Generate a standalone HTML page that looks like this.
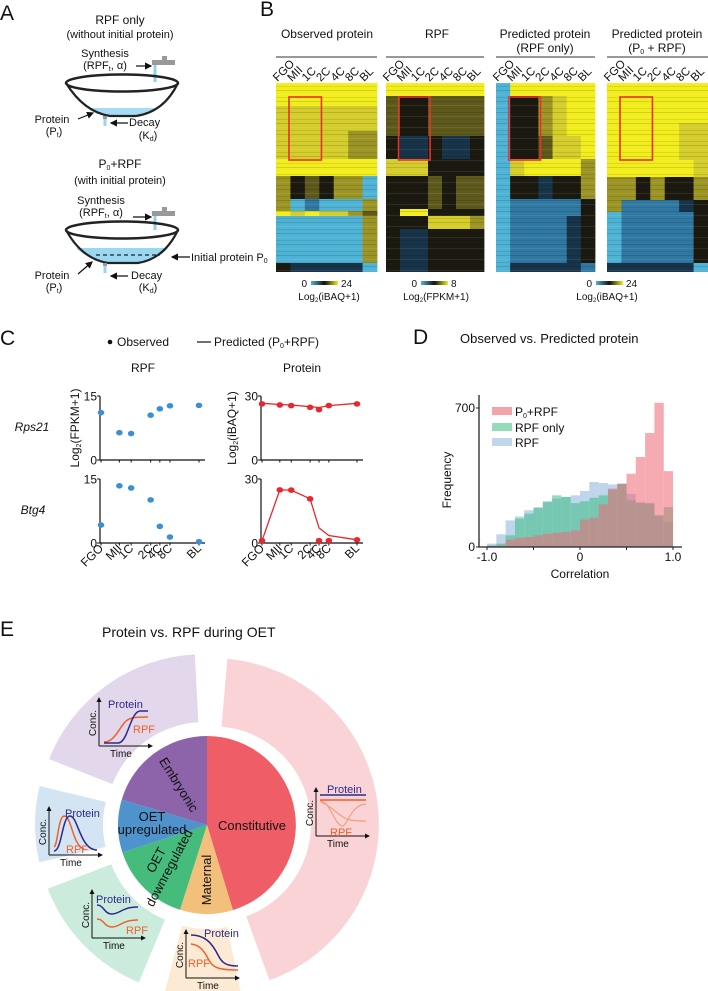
<!DOCTYPE html>
<html><head><meta charset="utf-8"><style>
html,body{margin:0;padding:0;background:#fff;}
svg{display:block;font-family:"Liberation Sans",Arial,sans-serif;}
</style></head><body>
<svg id="fig" width="708" height="991" viewBox="0 0 708 991" xmlns="http://www.w3.org/2000/svg">
<defs>
<marker id="ah" markerWidth="6" markerHeight="6" refX="5" refY="3" orient="auto"><path d="M0,0 L6,3 L0,6 Z" fill="#111"/></marker>
<marker id="ah2" markerWidth="5" markerHeight="5" refX="4" refY="2.5" orient="auto"><path d="M0,0 L5,2.5 L0,5 Z" fill="#111"/></marker>
<linearGradient id="cbar" x1="0" x2="1" y1="0" y2="0"><stop offset="0" stop-color="#4fb3d6"/><stop offset="0.5" stop-color="#111"/><stop offset="1" stop-color="#f2ee1e"/></linearGradient>
<pattern id="stripes" width="7" height="11" patternUnits="userSpaceOnUse"><rect x="0" y="2" width="7" height="1" fill="#000" opacity="0.13"/><rect x="0" y="6" width="7" height="1" fill="#fff" opacity="0.08"/><rect x="0" y="9" width="7" height="1" fill="#000" opacity="0.09"/></pattern>
</defs>

<!-- ================= PANEL A ================= -->
<g font-size="11" fill="#111">
<text x="0" y="20" font-size="21">A</text>
<text x="120" y="24" text-anchor="middle" font-size="12">RPF only</text>
<text x="120" y="38" text-anchor="middle">(without initial protein)</text>
<text x="105" y="57" text-anchor="middle">Synthesis</text>
<text x="105" y="69" text-anchor="middle">(RPF<tspan font-size="7" dy="2">t</tspan><tspan dy="-2">,  α)</tspan></text>
<line x1="136" y1="66" x2="151" y2="66" stroke="#111" stroke-width="1.2" marker-end="url(#ah)"/>
<g><rect x="152" y="60" width="23" height="5" fill="#999"/><rect x="162" y="56" width="5" height="5" fill="#999"/><rect x="153.5" y="65" width="3" height="17" fill="#8fd0ee"/></g>
<g>
<path d="M88,108 Q110,117 122,117 Q140,117 158,108 Z" fill="#a6dcf3"/>
<path d="M66,83 Q84,112 110,116 L136,116 Q164,112 178,83" fill="none" stroke="#222" stroke-width="2.2"/>
<ellipse cx="122" cy="83" rx="56" ry="8.5" fill="none" stroke="#222" stroke-width="2.5"/>
<rect x="103.5" y="116" width="3" height="10" fill="#9ad4ef"/><rect x="103" y="116" width="4" height="3" fill="#999"/>
</g>
<text x="52" y="123" text-anchor="middle">Protein</text>
<text x="54" y="135" text-anchor="middle">(P<tspan font-size="7" dy="2">t</tspan><tspan dy="-2">)</tspan></text>
<line x1="78" y1="119" x2="93" y2="113" stroke="#111" stroke-width="1.2" marker-end="url(#ah)"/>
<line x1="128" y1="123" x2="111" y2="123" stroke="#111" stroke-width="1.2" marker-end="url(#ah)"/>
<text x="129" y="126">Decay</text>
<text x="148" y="139" text-anchor="middle">(K<tspan font-size="7" dy="2">d</tspan><tspan dy="-2">)</tspan></text>

<text x="120" y="168" text-anchor="middle" font-size="12">P<tspan font-size="7" dy="2">0</tspan><tspan dy="-2">+RPF</tspan></text>
<text x="120" y="184" text-anchor="middle">(with initial protein)</text>
<text x="101" y="204" text-anchor="middle">Synthesis</text>
<text x="101" y="216" text-anchor="middle">(RPF<tspan font-size="7" dy="2">t</tspan><tspan dy="-2">,  α)</tspan></text>
<line x1="133" y1="217" x2="151" y2="217" stroke="#111" stroke-width="1.2" marker-end="url(#ah)"/>
<g><rect x="152" y="211" width="23" height="5" fill="#999"/><rect x="162" y="207" width="5" height="5" fill="#999"/><rect x="153.5" y="216" width="3" height="14" fill="#8fd0ee"/></g>
<g>
<path d="M76,248 L168,248 Q160,258 140,263 L106,263 Q86,258 76,248 Z" fill="#9ad8f2"/>
<line x1="96" y1="255" x2="160" y2="255" stroke="#222" stroke-width="1.2" stroke-dasharray="4,3"/>
<path d="M66,230 Q82,259 108,263 L138,263 Q164,259 178,230" fill="none" stroke="#222" stroke-width="2.2"/>
<ellipse cx="122" cy="230" rx="56" ry="8.5" fill="none" stroke="#222" stroke-width="2.5"/>
<rect x="103.5" y="263" width="3" height="10" fill="#9ad4ef"/><rect x="103" y="263" width="4" height="3" fill="#999"/>
</g>
<line x1="190" y1="257" x2="172" y2="257" stroke="#111" stroke-width="1.2" marker-end="url(#ah)"/>
<text x="191" y="261">Initial protein P<tspan font-size="7" dy="2">0</tspan></text>
<text x="52" y="279" text-anchor="middle">Protein</text>
<text x="54" y="291" text-anchor="middle">(P<tspan font-size="7" dy="2">t</tspan><tspan dy="-2">)</tspan></text>
<line x1="78" y1="274" x2="92" y2="262" stroke="#111" stroke-width="1.2" marker-end="url(#ah)"/>
<line x1="128" y1="276" x2="111" y2="276" stroke="#111" stroke-width="1.2" marker-end="url(#ah)"/>
<text x="131" y="279">Decay</text>
<text x="148" y="291" text-anchor="middle">(K<tspan font-size="7" dy="2">d</tspan><tspan dy="-2">)</tspan></text>
</g>

<!-- ================= PANEL B ================= -->
<g id="panelB" font-size="12" fill="#111">
<text x="260" y="16" font-size="21">B</text>
<text x="327" y="38" text-anchor="middle">Observed protein</text>
<text x="437" y="38" text-anchor="middle">RPF</text>
<text x="545" y="38" text-anchor="middle">Predicted protein</text>
<text x="545" y="52" text-anchor="middle">(RPF only)</text>
<text x="657" y="38" text-anchor="middle">Predicted protein</text>
<text x="657" y="52" text-anchor="middle">(P<tspan font-size="7" dy="2">0</tspan><tspan dy="-2"> + RPF)</tspan></text>
<g font-size="10">
<text x="307" y="287" text-anchor="end">0</text><rect x="311" y="281" width="27" height="4" fill="url(#cbar)"/><text x="341" y="287">24</text>
<text x="329" y="300" text-anchor="middle">Log<tspan font-size="6" dy="2">2</tspan><tspan dy="-2">(iBAQ+1)</tspan></text>
<text x="417" y="287" text-anchor="end">0</text><rect x="421" y="281" width="27" height="4" fill="url(#cbar)"/><text x="451" y="287">8</text>
<text x="436" y="300" text-anchor="middle">Log<tspan font-size="6" dy="2">2</tspan><tspan dy="-2">(FPKM+1)</tspan></text>
<text x="592" y="287" text-anchor="end">0</text><rect x="596" y="281" width="27" height="4" fill="url(#cbar)"/><text x="626" y="287">24</text>
<text x="607" y="300" text-anchor="middle">Log<tspan font-size="6" dy="2">2</tspan><tspan dy="-2">(iBAQ+1)</tspan></text>
</g>
</g>

<!-- ================= PANEL C ================= -->
<g id="panelC" fill="#111" font-size="12">
<text x="0" y="345" font-size="21">C</text>
<g>
<circle cx="110" cy="342" r="2.3" fill="#111"/><text x="117" y="346">Observed</text>
<line x1="197" y1="342" x2="211" y2="342" stroke="#111" stroke-width="1.2"/><text x="214" y="346">Predicted (P<tspan font-size="7" dy="2">0</tspan><tspan dy="-2">+RPF)</tspan></text>
</g>
<text x="143" y="372" text-anchor="middle">RPF</text>
<text x="302" y="372" text-anchor="middle">Protein</text>
<text x="32" y="431" text-anchor="middle" font-style="italic">Rps21</text>
<text x="33" y="514" text-anchor="middle" font-style="italic">Btg4</text>
<text transform="translate(79,428) rotate(-90)" text-anchor="middle">Log<tspan font-size="7" dy="2">2</tspan><tspan dy="-2">(FPKM+1)</tspan></text>
<text transform="translate(236,428) rotate(-90)" text-anchor="middle">Log<tspan font-size="7" dy="2">2</tspan><tspan dy="-2">(iBAQ+1)</tspan></text>
</g>

<!-- ================= PANEL D ================= -->
<g id="panelD" fill="#111" font-size="12">
<text x="413" y="344" font-size="21">D</text>
<text x="460" y="343" font-size="13">Observed vs. Predicted protein</text>
<text transform="translate(451,480) rotate(-90)" text-anchor="middle">Frequency</text>
<text x="580" y="578" text-anchor="middle">Correlation</text>
</g>

<!-- ================= PANEL E ================= -->
<g id="panelE" fill="#111">
<text x="0" y="636" font-size="21">E</text>
<text x="102" y="637" font-size="14">Protein vs. RPF during OET</text>
</g>
</svg>

<script>
var NS = "http://www.w3.org/2000/svg";
function mk(tag, attrs, parent){ var e=document.createElementNS(NS,tag); for(var k in attrs) e.setAttribute(k,attrs[k]); (parent||document.getElementById('fig')).appendChild(e); return e; }

/* ---------- Panel B heatmap data ---------- */
var stages = ["FGO","MII","1C","2C","4C","8C","BL"];
var heatObserved = [[23,"YYYYYYY"],[25,"yyyyyyy"],[28,"yyyyyoo"],[17,"YYYYYYY"],[23,"oklkoob"],[12,"obmbbbo"],[5,"YyYyyol"],[47,"bbbbbbo"],[9,"kdddddb"]];
var heatRPF = [[13,"YYYYYYY"],[40,"lkkllll"],[23,"kddkddk"],[17,"yyykkkk"],[33,"kkklkll"],[7,"kYYkkkk"],[13,"kkkyyyo"],[43,"kddkkkk"]];
var heatPredRPF = [[13,"bYYYYYY"],[40,"bkkoyYY"],[23,"bkklyyY"],[17,"byYYYYo"],[23,"bkkdkko"],[17,"bmmmmmk"],[47,"bmmmmdk"],[9,"bdddddm"]];
var heatPredP0 = [[40,"YYYYYYY"],[37,"YYYYYyy"],[17,"YYYYYYy"],[23,"ookokko"],[12,"ommmmdk"],[51,"bmmmmmk"],[9,"ddddddb"]];
var heatColors = {Y:"#f2ee1e",y:"#d4cd2c",o:"#9c9424",l:"#5e5a1c",k:"#1c1a10",d:"#17344a",m:"#2f78a2",b:"#4fb3d6"};

(function(){
  var B=document.getElementById('panelB');
  var panels=[{x:276,w:101,d:heatObserved,n:"observed"},{x:386,w:98,d:heatRPF,n:"rpf"},{x:496,w:99,d:heatPredRPF,n:"predicted-rpf-only"},{x:607,w:101,d:heatPredP0,n:"predicted-p0-rpf"}];
  var y0=83;
  panels.forEach(function(p){
    var g=mk('g',{},B);
    
    
    var l=mk('line',{x1:p.x,x2:p.x+p.w,y1:57,y2:57,stroke:"#333","stroke-width":1},g);
    
    
    var cw=p.w/7, y=y0;
    p.d.forEach(function(band){
      for(var c=0;c<7;c++){
        var r=mk('rect',{x:(p.x+c*cw).toFixed(2),y:y,width:(cw+0.4).toFixed(2),height:band[0],fill:heatColors[band[1][c]]},g);
        
        
      }
      y+=band[0];
    });
    mk('rect',{x:p.x,y:y0,width:p.w,height:y-y0,fill:"url(#stripes)"},g);
    stages.forEach(function(s,i){
      var t=mk('text',{transform:"translate("+(p.x+i*cw+1.5)+",82) rotate(-45)","font-size":"11.5"},g);
      t.textContent=s;
      
      
    });
    var box=mk('rect',{x:p.x+cw*0.9,y:97,width:cw*2.25,height:63,fill:"none",stroke:"#e8322c","stroke-width":1.6},g);
    
    
  });
})();

/* ---------- Panel C data ---------- */
var stageTime = [0, 1, 1.64, 2.7, 3.2, 3.75, 5.33];
var rpfRps21 = [11.1, 6.4, 6.2, 10.5, 12.0, 12.7, 12.8];
var rpfBtg4 = [4.2, 13.4, 12.9, 10.1, 3.9, 1.4, 0.3];
var protRps21Obs = [26.3, 25.8, 25.5, 24.7, 23.6, 25.5, 26.3];
var protRps21Pred = [26.6, 26.0, 25.8, 25.0, 24.6, 25.5, 26.6];
var protBtg4Obs = [1.1, 24.9, 24.8, 20.7, 1.1, 1.1, 1.5];
var protBtg4Pred = [1.1, 24.9, 24.8, 20.7, 7.1, 3.5, 1.5];
var rpfTicks = [0, 15];
var protTicks = [0, 30];

(function(){
  var C=document.getElementById('panelC');
  function plot(opts){
    var g=mk('g',{},C);
    
    
    var x0=opts.x0, yb=opts.yb, h=64, xs=opts.xw/5.33;
    function X(t){return x0+1+t*xs;}
    function Y(v){return yb-v/opts.max*h;}
    var ax=mk('path',{d:"M"+x0+","+(yb-h)+" L"+x0+","+yb+" L"+(x0+opts.xw+7)+","+yb,fill:"none",stroke:"#111","stroke-width":1.2},g);
    
    
    opts.ticks.forEach(function(v){
      mk('line',{x1:x0-3,x2:x0,y1:Y(v),y2:Y(v),stroke:"#111"},g);
      var t=mk('text',{x:x0-3,y:Y(v)+4.5,"text-anchor":"end","font-size":"12"},g);
      t.textContent=v;
      
      
    });
    stageTime.forEach(function(s){ mk('line',{x1:X(s),x2:X(s),y1:yb,y2:yb+2.5,stroke:"#111"},g); });
    if(opts.pred){
      var d=opts.pred.map(function(v,i){return (i?"L":"M")+X(stageTime[i]).toFixed(1)+","+Y(v).toFixed(1);}).join(" ");
      var pl=mk('path',{d:d,fill:"none",stroke:opts.color,"stroke-width":1.3},g);
      
      
    }
    opts.obs.forEach(function(v,i){
      var c=mk('ellipse',{cx:X(stageTime[i]),cy:Y(v),rx:3.3,ry:2.8,fill:opts.color},g);
      
      
    });
    if(opts.labels){
      stages.forEach(function(s,i){
        var t=mk('text',{transform:"translate("+(X(stageTime[i])+3)+","+(yb+6)+") rotate(-45)","text-anchor":"end","font-size":"12"},g);
        t.textContent=s;
        
        
      });
    }
  }
  plot({name:"rpf-rps21-plot",x0:100,yb:460,xw:98,max:15,ticks:rpfTicks,obs:rpfRps21,color:"#3a8fd6"});
  plot({name:"rpf-btg4-plot",x0:100,yb:543,xw:98,max:15,ticks:rpfTicks,obs:rpfBtg4,color:"#3a8fd6",labels:true});
  plot({name:"protein-rps21-plot",x0:261,yb:460,xw:95,max:30,ticks:protTicks,obs:protRps21Obs,pred:protRps21Pred,color:"#e8262e"});
  plot({name:"protein-btg4-plot",x0:261,yb:543,xw:95,max:30,ticks:protTicks,obs:protBtg4Obs,pred:protBtg4Pred,color:"#e8262e",labels:true});
})();

/* ---------- Panel D data ---------- */
var binStarts = [-1.0,-0.9,-0.8,-0.7,-0.6,-0.5,-0.4,-0.3,-0.2,-0.1,0.0,0.1,0.2,0.3,0.4,0.5,0.6,0.7,0.8,0.9];
var freqRPF = [17,64,134,154,185,201,226,243,252,260,282,327,322,315,315,268,226,218,159,126];
var freqRPFonly = [8,17,59,143,168,196,230,260,252,221,230,248,260,289,319,235,221,221,159,201];
var freqP0RPF = [5,8,37,47,50,59,67,72,76,84,138,148,215,294,319,369,453,574,726,382];
var freqTicks = [0, 700];
var corrTicks = [-1.0, 0, 1.0];

(function(){
  var D=document.getElementById('panelD');
  function X(v){return 487+(v+1)/2*186;}
  function Y(v){return 547-v*0.1986;}
  var series=[{d:freqRPF,c:"#8ab4dc",n:"rpf"},{d:freqRPFonly,c:"#3cbf85",n:"rpf-only"},{d:freqP0RPF,c:"#f06874",n:"p0-rpf"}];
  series.forEach(function(s){
    var g=mk('g',{opacity:"0.55"},D);
    
    
    s.d.forEach(function(v,i){
      var x=X(binStarts[i]);
      var r=mk('rect',{x:x.toFixed(2),y:Y(v).toFixed(2),width:(X(binStarts[i]+0.1)-x+0.05).toFixed(2),height:(547-Y(v)).toFixed(2),fill:s.c},g);
      
      
    });
  });
  var ax=mk('path',{d:"M479,395 L479,547 L682,547",fill:"none",stroke:"#222","stroke-width":1.3},D);
  
  
  freqTicks.forEach(function(v){
    mk('line',{x1:476,x2:479,y1:Y(v),y2:Y(v),stroke:"#222"},D);
    var t=mk('text',{x:475,y:Y(v)+4,"text-anchor":"end","font-size":"12"},D);
    t.textContent=v;
    
    
  });
  [-0.5,0.5].forEach(function(v){ mk('line',{x1:X(v),x2:X(v),y1:547,y2:550,stroke:"#222"},D); });
  corrTicks.forEach(function(v){
    mk('line',{x1:X(v),x2:X(v),y1:547,y2:550,stroke:"#222"},D);
    var t=mk('text',{x:X(v),y:561,"text-anchor":"middle","font-size":"12"},D);
    t.textContent=(v===0?"0":v.toFixed(1));
    
    
  });
  var leg=[["#f5a3ab","P0+RPF",416],["#93dbb9","RPF only",432],["#bfd6ec","RPF",447]];
  leg.forEach(function(l){
    var g=mk('g',{},D);
    
    
    mk('rect',{x:492,y:l[2]-9,width:20,height:8,fill:l[0]},g);
    var t=mk('text',{x:515,y:l[2],"font-size":"12"},g);
    if(l[1]==="P0+RPF"){ t.innerHTML='P<tspan font-size="7" dy="2">0</tspan><tspan dy="-2">+RPF</tspan>'; } else t.textContent=l[1];
  });
})();

/* ---------- Panel E data ---------- */
var pieCategories = ["Constitutive","Maternal","OET downregulated","OET upregulated","Embryonic"];
var pieShares = [45.3, 9.6, 15.1, 9.6, 20.4];
var pieColors = ["#ef5e67","#f2c07a","#45bb7c","#4e93cc","#8d63a9"];
var outerColors = ["#f9d3d6","#fcead4","#cbebdc","#d3e4f2","#e3d7eb"];

(function(){
  var E=document.getElementById('panelE');
  var cx=207, cy=825, R=89;
  function pt(r,a){var rad=(a-90)*Math.PI/180;return [cx+r*Math.cos(rad), cy+r*Math.sin(rad)];}
  function sector(r0,r1,a0,a1,off){
    var mid=(a0+a1)/2, o=pt(off,mid); var dx=o[0]-cx, dy=o[1]-cy;
    function P(r,a){var p=pt(r,a);return (p[0]+dx).toFixed(1)+","+(p[1]+dy).toFixed(1);}
    var lg=(a1-a0)>180?1:0;
    if(r0===0) return "M"+(cx+dx)+","+(cy+dy)+" L"+P(r1,a0)+" A"+r1+","+r1+" 0 "+lg+" 1 "+P(r1,a1)+" Z";
    return "M"+P(r0,a0)+" L"+P(r1,a0)+" A"+r1+","+r1+" 0 "+lg+" 1 "+P(r1,a1)+" L"+P(r0,a1)+" A"+r0+","+r0+" 0 "+lg+" 0 "+P(r0,a0)+" Z";
  }
  var total=pieShares.reduce(function(a,b){return a+b;},0);
  var a=0;
  var outers=[], inners=[];
  pieShares.forEach(function(s,i){
    var a1=a+s/total*360;
    outers.push([a,a1,i]); inners.push([a,a1,i]); a=a1;
  });
  var outerG=mk('g',{},E);
  
  
  outers.forEach(function(o){
    var p=mk('path',{d:sector(98,166,o[0]+5,o[1]-3,6),fill:outerColors[o[2]]},outerG);
    
    
  });
  var pieG=mk('g',{},E);
  
  
  inners.forEach(function(o){
    var p=mk('path',{d:sector(0,R,o[0],o[1],0),fill:pieColors[o[2]]},pieG);
    
    
  });
  function txt(s,attrs,name){var t=mk('text',attrs,E);t.textContent=s;return t;}
  txt("Constitutive",{x:252,y:830,"text-anchor":"middle","font-size":"13"},"label-constitutive");
  txt("Embryonic",{transform:"translate(175,787) rotate(58)","text-anchor":"middle","font-size":"13"},"label-embryonic");
  txt("OET",{x:152,y:821,"text-anchor":"middle","font-size":"13"},"label-oet-upregulated");
  txt("upregulated",{x:152,y:834,"text-anchor":"middle","font-size":"13"},"label-upregulated");
  txt("OET",{transform:"translate(160,862) rotate(-62)","text-anchor":"middle","font-size":"13"},"label-oet-downregulated");
  txt("downregulated",{transform:"translate(173,870) rotate(-62)","text-anchor":"middle","font-size":"13"},"label-downregulated");
  txt("Maternal",{transform:"translate(211,880) rotate(-90)","text-anchor":"middle","font-size":"13"},"label-maternal");

  function inset(name,ox,oy,blue,orange,protXY,rpfXY,faint){
    var g=mk('g',{},E);
    
    
    mk('path',{d:"M"+ox+","+(oy+48)+" L"+ox+","+oy,stroke:"#111","stroke-width":1,fill:"none","marker-end":"url(#ah2)"},g);
    mk('path',{d:"M"+ox+","+(oy+48)+" L"+(ox+53)+","+(oy+48),stroke:"#111","stroke-width":1,fill:"none","marker-end":"url(#ah2)"},g);
    if(faint) mk('path',{d:faint,stroke:"#f4a07e","stroke-width":1.2,fill:"none"},g);
    mk('path',{d:orange,stroke:"#f0602a","stroke-width":1.5,fill:"none"},g);
    mk('path',{d:blue,stroke:"#2d2a8c","stroke-width":1.5,fill:"none"},g);
    var t1=mk('text',{x:protXY[0],y:protXY[1],"font-size":"11",fill:"#2d2a8c"},g);t1.textContent="Protein";
    var t2=mk('text',{x:rpfXY[0],y:rpfXY[1],"font-size":"11",fill:"#f0602a"},g);t2.textContent="RPF";
    var t3=mk('text',{x:ox+11,y:oy+59,"font-size":"10"},g);t3.textContent="Time";
    var t4=mk('text',{transform:"translate("+(ox-3)+","+(oy+25)+") rotate(-90)","text-anchor":"middle","font-size":"10"},g);t4.textContent="Conc.";
  }
  inset("inset-embryonic",99,698,
    "M104,743 L118,743 C128,743 130,712 140,711 L148,711",
    "M104,742 C114,742 118,730 125,722 C129,718 132,717 148,717",
    [108,708],[133,733]);
  inset("inset-upregulated",49,807,
    "M54,851 C62,851 62,816 70,816 C78,816 80,850 97,850",
    "M54,847 C58,845 58,817 64,816 C72,816 72,845 84,849",
    [65,817],[66,853]);
  inset("inset-downregulated",92,890,
    "M97,905 C104,905 104,914 112,914 C120,914 122,907 138,907",
    "M97,919 C104,919 104,927 112,927 C120,927 122,920 138,920",
    [96,903],[126,934]);
  inset("inset-maternal",186,930,
    "M191,935 C205,935 212,943 218,955 C222,963 226,966 238,966",
    "M191,944 C202,945 206,955 210,962 C214,968 220,970 238,970",
    [204,937],[188,967]);
  inset("inset-constitutive",316,788,
    "M320,795 L366,795",
    "M320,800 L366,800",
    [327,793],[330,836],
    "M320,801 C330,801 334,824 342,826 C348,826 350,805 366,804 M321,802 C332,806 340,818 350,820 C356,821 360,821 366,821");
})();
</script>
</body></html>
